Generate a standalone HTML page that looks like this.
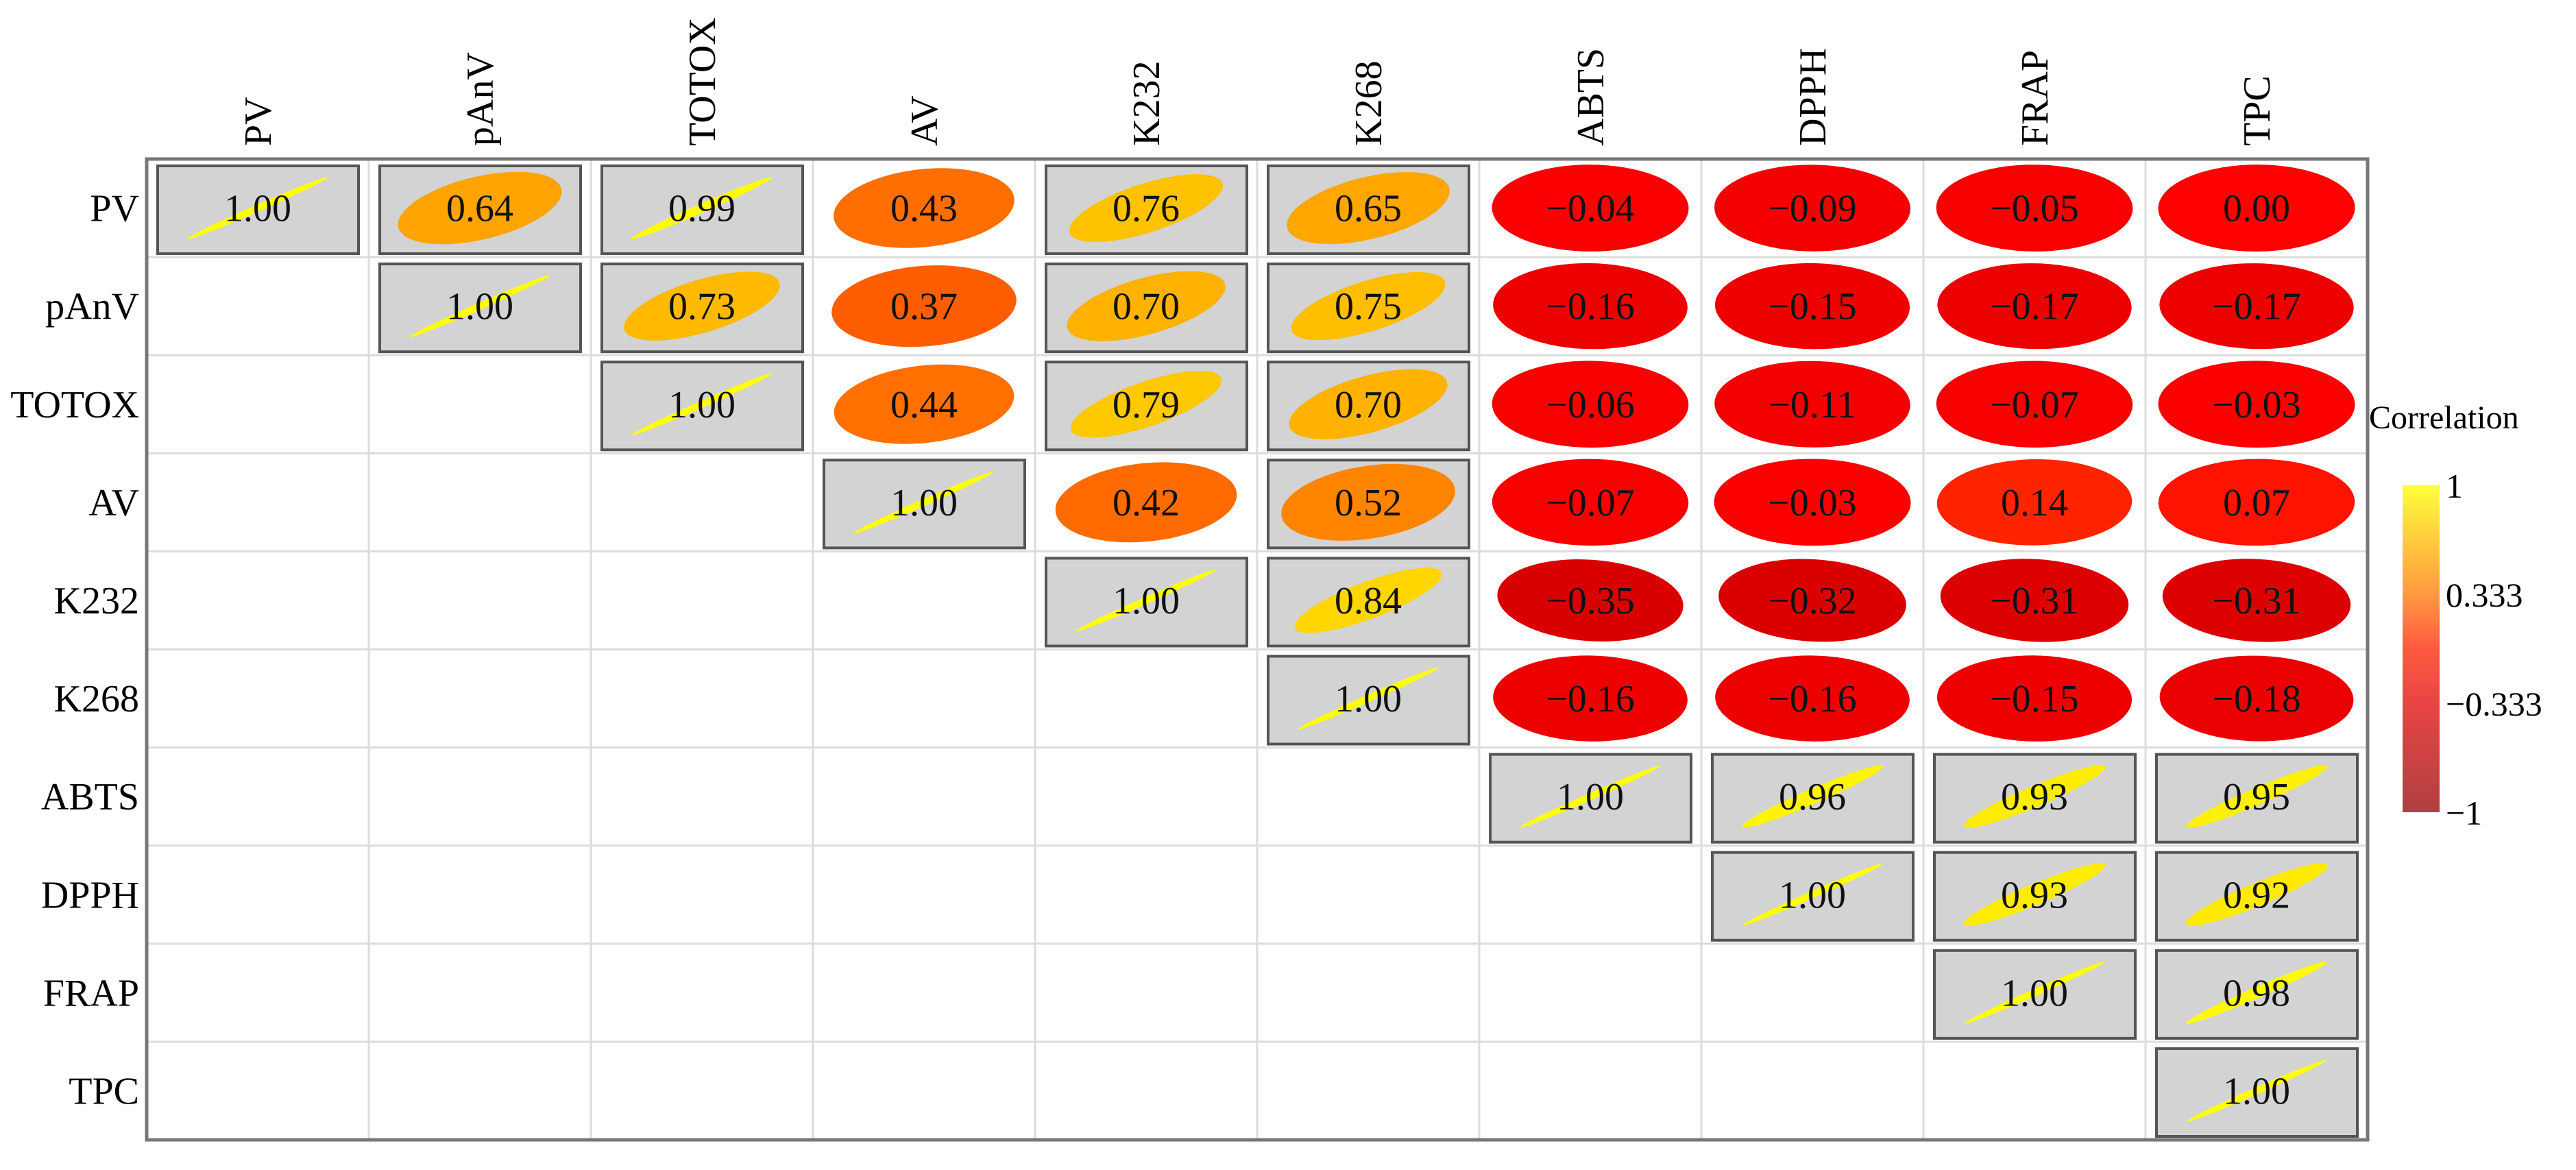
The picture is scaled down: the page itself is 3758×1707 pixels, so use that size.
<!DOCTYPE html>
<html><head><meta charset="utf-8"><style>
html,body{margin:0;padding:0;background:#fff;}
svg text{font-family:"Liberation Serif",serif;}
</style></head><body>
<svg id="chart" width="3758" height="1702" viewBox="0 0 3758 1702" xmlns="http://www.w3.org/2000/svg">
<defs>
<linearGradient id="cbar" x1="0" y1="0" x2="0" y2="1">
<stop offset="0" stop-color="#ffff3a"/>
<stop offset="0.33" stop-color="#ff9a40"/>
<stop offset="0.5" stop-color="#ff5a40"/>
<stop offset="0.67" stop-color="#e84444"/>
<stop offset="1" stop-color="#b04040"/>
</linearGradient>
</defs>
<g id="grid"></g>
<g id="marks"></g>
<g id="labels"></g>
<rect x="214" y="232" width="3240" height="1431" fill="none" stroke="#777" stroke-width="5"/>
<g>
<text x="3456" y="625" font-size="48">Correlation</text>
<rect x="3505" y="708" width="54" height="477" fill="url(#cbar)"/>
<g id="ticks"></g>
</g>
</svg>
<script>
const variables = ["PV","pAnV","TOTOX","AV","K232","K268","ABTS","DPPH","FRAP","TPC"];
const row0 = [1.00,0.64,0.99,0.43,0.76,0.65,-0.04,-0.09,-0.05,0.00];
const row1 = [1.00,0.73,0.37,0.70,0.75,-0.16,-0.15,-0.17,-0.17];
const row2 = [1.00,0.44,0.79,0.70,-0.06,-0.11,-0.07,-0.03];
const row3 = [1.00,0.42,0.52,-0.07,-0.03,0.14,0.07];
const row4 = [1.00,0.84,-0.35,-0.32,-0.31,-0.31];
const row5 = [1.00,-0.16,-0.16,-0.15,-0.18];
const row6 = [1.00,0.96,0.93,0.95];
const row7 = [1.00,0.93,0.92];
const row8 = [1.00,0.98];
const row9 = [1.00];
const rows = [row0,row1,row2,row3,row4,row5,row6,row7,row8,row9];
const legendTicks = [1, 0.333, -0.333, -1];
const legendTickLabels = ["1","0.333","\u22120.333","\u22121"];

const NS="http://www.w3.org/2000/svg";
const X0=214,Y0=232,CW=324,CH=143.1,N=variables.length;
const xs=i=>X0+i*CW, ys=i=>Y0+i*CH;
function el(tag,attrs,parent){const e=document.createElementNS(NS,tag);for(const k in attrs)e.setAttribute(k,attrs[k]);parent.appendChild(e);return e;}
function color(r){if(r>=0){return `rgb(255,${Math.round(255*r)},0)`;}const v=Math.round(255+r*111);return `rgb(${v},0,0)`;}
const grid=document.getElementById('grid'),marks=document.getElementById('marks'),labels=document.getElementById('labels');
for(let i=1;i<N;i++){
  const l1=el('line',{x1:xs(i),y1:Y0,x2:xs(i),y2:Y0+N*CH,stroke:'#dcdcdc','stroke-width':3},grid);
  
  
  const l2=el('line',{x1:X0,y1:ys(i),x2:X0+N*CW,y2:ys(i),stroke:'#dcdcdc','stroke-width':3},grid);
  
  
}
variables.forEach((v,i)=>{
  const cx=xs(i)+CW/2;
  const t=el('text',{x:0,y:0,'font-size':56,'text-anchor':'start',transform:`translate(${cx+19},213) rotate(-90)`},labels);
  t.textContent=v;
  
  
  const r=el('text',{x:203,y:ys(i)+CH/2+19,'font-size':56,'text-anchor':'end'},labels);
  r.textContent=v;
  
  
});
rows.forEach((vals,i)=>{
  vals.forEach((r,k)=>{
    const j=i+k;
    const cx=xs(j)+CW/2, cy=ys(i)+CH/2;
    const g=el('g',{},marks);
    
    
    if(r>=0.5){
      const b=el('rect',{x:xs(j)+16,y:ys(i)+10,width:CW-31,height:CH-15,fill:'#d3d3d3',stroke:'#555','stroke-width':4},g);
      
      
    }
    const c=0.89, a=c, bb=c*(1-r*r)*0.93+0.055;
    const s=r>=0?1:-1;
    let pts=[];
    for(let q=0;q<72;q++){
      const t=q/72*2*Math.PI;
      const u=(a*Math.cos(t)+bb*Math.sin(t))/Math.SQRT2;
      const v=(s*a*Math.cos(t)-s*bb*Math.sin(t))/Math.SQRT2;
      pts.push((cx+u*CW/2).toFixed(1)+','+(cy-v*CH/2).toFixed(1));
    }
    const p=el('polygon',{points:pts.join(' '),fill:color(r)},g);
    
    
    const tx=el('text',{x:cx,y:cy+19,'font-size':56,'text-anchor':'middle',fill:'#111'},g);
    tx.textContent=(r<0?'\u2212':'')+Math.abs(r).toFixed(2);
    
    
  });
});
const ticks=document.getElementById('ticks');
legendTicks.forEach((v,i)=>{
  const y=708+(1-v)/2*477;
  const t=el('text',{x:3568,y:y+18,'font-size':50},ticks);
  t.textContent=legendTickLabels[i];
  
  
});
</script>
</body></html>
